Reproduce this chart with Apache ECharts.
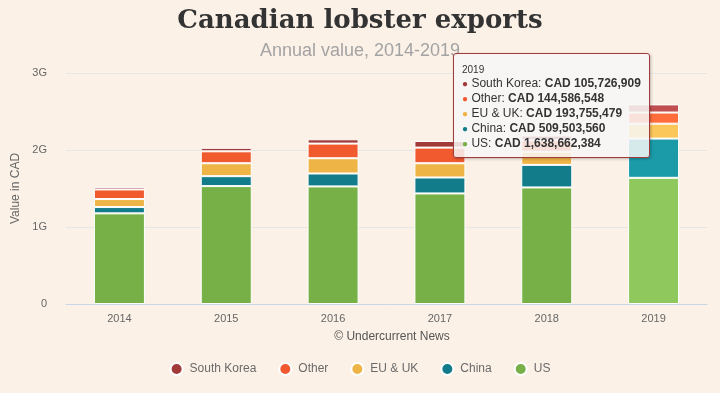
<!DOCTYPE html>
<html>
<head>
<meta charset="utf-8">
<script src="https://cdn.jsdelivr.net/npm/echarts@6/dist/echarts.min.js"></script>
<style>
html,body{margin:0;padding:0;background:#fbf1e7;}
#chart{width:720px;height:393px;}
</style>
</head>
<body>
<div id="chart"></div>
<script>
const years = ['2014', '2015', '2016', '2017', '2018', '2019'];
const us = [1177000000, 1531000000, 1527000000, 1436000000, 1514000000, 1638662384];
const china = [82000000, 129000000, 168000000, 207000000, 293000000, 509503560];
const euUk = [104000000, 168000000, 198000000, 185000000, 170000000, 193755479];
const other = [125000000, 155000000, 190000000, 203000000, 150000000, 144586548];
const southKorea = [33000000, 45000000, 56000000, 86000000, 60000000, 105726909];
const yTicks = ['0', '1G', '2G', '3G'];

const seriesDefs = [
  {name: 'US', data: us, color: '#77b046', hi: '#8fc95e'},
  {name: 'China', data: china, color: '#127c8a', hi: '#1b9ba8'},
  {name: 'EU & UK', data: euUk, color: '#efb446', hi: '#fcc75a'},
  {name: 'Other', data: other, color: '#f05a2e', hi: '#ff6d3c'},
  {name: 'South Korea', data: southKorea, color: '#a23a3a', hi: '#c24f4f'}
];

const chart = echarts.init(document.getElementById('chart'));
const font = '"Liberation Sans", Arial, sans-serif';

chart.setOption({
  animation: false,
  backgroundColor: '#fbf1e7',
  textStyle: {fontFamily: font},
  title: [
    {text: 'Canadian lobster exports', left: 'center', top: 3,
     textStyle: {fontFamily: '"DejaVu Serif", Georgia, serif', fontWeight: 'bold', fontSize: 26, color: '#333333'}},
    {text: 'Annual value, 2014-2019', left: 'center', top: 37,
     textStyle: {fontFamily: font, fontWeight: 'normal', fontSize: 18, color: '#a3a3a3'}},
    {text: '© Undercurrent News', left: 387, textAlign: 'center', top: 326,
     textStyle: {fontFamily: font, fontWeight: 'normal', fontSize: 12, color: '#555555'}}
  ],
  legend: {
    data: ['South Korea', 'Other', 'EU & UK', 'China', 'US'],
    left: 'center', top: 357,
    icon: 'circle', itemWidth: 16, itemHeight: 12, itemGap: 22,
    textStyle: {fontFamily: font, fontSize: 12, color: '#6a6a6a'}
  },
  grid: {left: 66, right: 13, top: 73, bottom: 89, containLabel: false, outerBoundsMode: 'none'},
  tooltip: {
    trigger: 'axis',
    triggerOn: 'none',
    alwaysShowContent: true,
    axisPointer: {type: 'none'},
    position: [453, 53],
    backgroundColor: 'rgba(247,247,247,0.85)',
    borderColor: '#a23a3a',
    borderWidth: 1,
    padding: [9, 8, 6, 8],
    extraCssText: 'box-shadow:1px 1px 3px rgba(0,0,0,0.25);border-radius:3px;',
    formatter: function (params) {
      const rows = params.slice().reverse();
      let html = '<div style="font-family:' + font.replace(/"/g, "'") + ';color:#333;">';
      html += '<div style="font-size:10px;line-height:13px;">' + params[0].name + '</div>';
      rows.forEach(function (p) {
        html += '<div style="font-size:12px;line-height:15px;">' +
          '<span style="color:' + p.color + ';font-size:10px;">\u25CF</span> ' +
          p.seriesName + ': <b>CAD ' + p.value.toLocaleString('en-US') + '</b></div>';
      });
      return html + '</div>';
    }
  },
  xAxis: {
    type: 'category',
    data: years,
    axisLine: {lineStyle: {color: '#ccd6eb'}},
    axisTick: {alignWithLabel: true, length: 8, lineStyle: {color: '#ccd6eb'}},
    axisLabel: {fontSize: 11, color: '#666666', margin: 9}
  },
  yAxis: {
    type: 'value',
    min: 0, max: 3000000000, interval: 1000000000,
    name: 'Value in CAD',
    nameLocation: 'middle',
    nameGap: 38,
    nameTextStyle: {fontSize: 12, color: '#666666'},
    axisLabel: {fontSize: 11, color: '#666666', margin: 19,
      formatter: function (v) { return yTicks[Math.round(v / 1000000000)]; }},
    splitLine: {lineStyle: {color: '#e6e6e6'}}
  },
  series: seriesDefs.map(function (s) {
    return {
      name: s.name,
      type: 'bar',
      stack: 'total',
      barWidth: 51,
      data: s.data,
      itemStyle: {color: s.color, borderColor: '#ffffff', borderWidth: 1},
      emphasis: {itemStyle: {color: s.hi, borderColor: '#ffffff', borderWidth: 1}}
    };
  })
});

chart.dispatchAction({type: 'highlight', seriesIndex: [0, 1, 2, 3, 4], dataIndex: 5});
chart.dispatchAction({type: 'showTip', seriesIndex: 0, dataIndex: 5});
</script>
</body>
</html>
